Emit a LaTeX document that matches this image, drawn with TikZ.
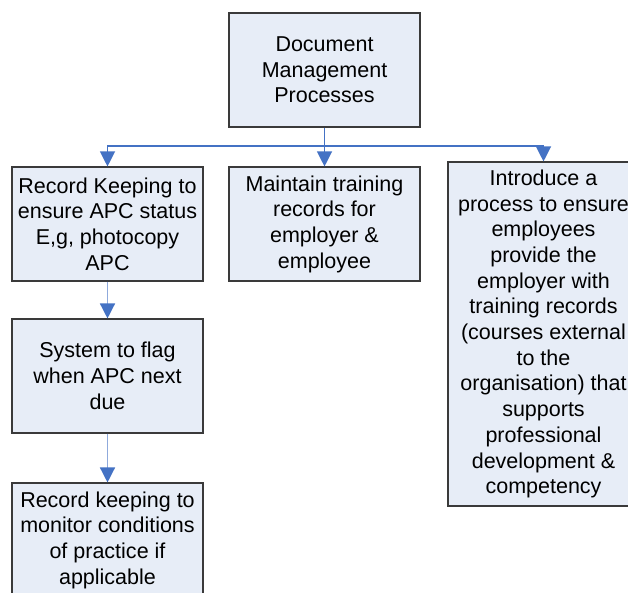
\documentclass[tikz,border=0pt]{standalone}
\usepackage{fontspec}
\setmainfont{Liberation Sans}
\usepackage{tikz}
\usetikzlibrary{positioning, arrows.meta}

\definecolor{boxfill}{HTML}{E7EDF7}
\definecolor{boxline}{HTML}{3A3A3A}
\definecolor{linkblue}{HTML}{4472C4}
\definecolor{linklight}{HTML}{8FAADC}

\begin{document}
\begin{tikzpicture}[
    x=1pt, y=-1pt,
    procbox/.style={rectangle, draw=boxline, line width=1.1pt, fill=boxfill,
        minimum width=191pt, minimum height=114pt, inner sep=0pt, align=center,
        font=\fontsize{21.5}{25.7}\selectfont},
    link/.style={draw=linkblue, line width=1.2pt},
    linkarrow/.style={link, -{Triangle[width=15pt, length=15pt, color=linkblue]}},
    chainarrow/.style={draw=linklight, line width=1.4pt, -{Triangle[width=15pt, length=15pt, color=linkblue]}},
]

\clip (0,0) rectangle (628,593);
\fill[white] (0,0) rectangle (628,593);

% Draw the boxes
\node[procbox] (top) at (324.5, 70) {Document\\Management\\Processes};
\node[procbox] (rec) at (107.5, 224) {Record Keeping to\\ensure APC status\\E,g, photocopy\\APC};
\node[procbox] (train) at (324.5, 224) {Maintain training\\records for\\employer \&\\employee};
\node[procbox, minimum height=344pt] (intro) at (543.5, 334) {Introduce a\\process to ensure\\employees\\provide the\\employer with\\training records\\(courses external\\to the\\organisation) that\\supports\\professional\\development \&\\competency};
\node[procbox] (flag) at (107.5, 376) {System to flag\\when APC next\\due};
\node[procbox] (cond) at (107.5, 540) {Record keeping to\\monitor conditions\\of practice if\\applicable};

% Draw the connectors
\coordinate (bus) at (324.5, 146);
\draw[link] (top.south) -- (bus);
\draw[linkarrow] (bus) -| (rec.north);
\draw[linkarrow] (bus) -- (train.north);
\draw[linkarrow] (bus) -| (intro.north);
\draw[chainarrow] (rec.south) -- (flag.north);
\draw[chainarrow] (flag.south) -- (cond.north);

\end{tikzpicture}
\end{document}
